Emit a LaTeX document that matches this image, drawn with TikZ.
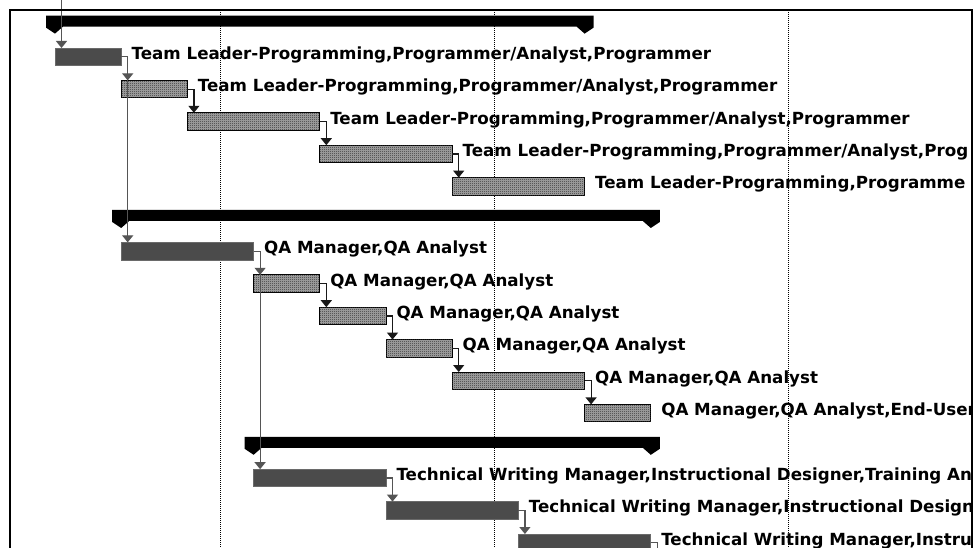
\documentclass[tikz,border=0pt]{standalone}
\usepackage{fontspec}
\newfontfamily\lblfont{DejaVu Sans}
\usetikzlibrary{arrows.meta,patterns.meta}

\definecolor{taskdark}{HTML}{4B4B4B}
\definecolor{taskedge}{HTML}{6A6A6A}
\definecolor{linkgray}{HTML}{555555}
\definecolor{ditherlight}{HTML}{A8A8A8}
\definecolor{ditherdark}{HTML}{2E2E2E}

% fine checkerboard used for the non-critical task bars
\tikzdeclarepattern{
  name=dither, type=uncolored,
  bounding box={(0pt,0pt) and (2pt,2pt)},
  tile size={(2pt,2pt)},
  code={
    \pgfpathrectangle{\pgfpointorigin}{\pgfpoint{1pt}{1pt}}
    \pgfpathrectangle{\pgfpoint{1pt}{1pt}}{\pgfpoint{1pt}{1pt}}
    \pgfusepath{fill}
  }
}

\tikzset{
  barbase/.style={rectangle, inner sep=0pt, outer sep=0pt, minimum height=17.5pt, anchor=north west},
  critbar/.style={barbase, fill=taskdark, draw=taskedge, line width=0.8pt},
  plainbar/.style={barbase, fill=ditherlight, draw=black, line width=1pt,
    postaction={pattern=dither, pattern color=ditherdark}},
  sumbar/.style={fill=black},
  grid/.style={black, line width=0.9pt, dash pattern=on 1pt off 1pt},
  frame/.style={black, line width=2pt},
  link/.style={line width=1.2pt, -{Triangle[width=11pt,length=7pt]}},
  graylink/.style={link, linkgray},
  blacklink/.style={link, black!90},
  lbl/.style={anchor=base west, inner sep=0pt, outer sep=0pt, text=black,
    font=\lblfont\bfseries\fontsize{16.7}{20}\selectfont}
}

% task bar: name, style, row, start column, span in columns
\newcommand\gtask[5]{%
  \node[#2, minimum width={66.2pt*#5}] (#1) at ({55+66.2*#4},{48+32.4*(#3-1)}) {};}
% label to the right of a task bar
\newcommand\glabel[3]{%
  \node[lbl] (#1) at ([shift={(10.5,2.5)}]#2.east) {#3};}
% summary bar: row, first column, last column
\newcommand\gsummary[3]{%
  \pgfmathsetmacro\xl{55+66.2*#2-9}%
  \pgfmathsetmacro\xr{55+66.2*#3+9}%
  \pgfmathsetmacro\yt{48+32.4*(#1-1)}%
  \fill[sumbar] (\xl,\yt) -- (\xr,\yt) -- (\xr,\yt+12) -- (\xr-9,\yt+18)
    -- (\xr-17,\yt+11) -- (\xl+17,\yt+11) -- (\xl+9,\yt+18) -- (\xl,\yt+12) -- cycle;}

\begin{document}
\begin{tikzpicture}[x=1pt,y=-1pt]
\useasboundingbox (0,0) rectangle (977,548);
\fill[white] (0,0) rectangle (977,548);

% timescale gridlines
\foreach \gx in {220,494,788}
  \draw[grid] (\gx,10) -- (\gx,548);

% summary bars
\gsummary{0}{0}{8}
\gsummary{6}{1}{9}
\gsummary{13}{3}{9}

% programming tasks
\gtask{t1}{critbar}{1}{0}{1}
\gtask{t2}{plainbar}{2}{1}{1}
\gtask{t3}{plainbar}{3}{2}{2}
\gtask{t4}{plainbar}{4}{4}{2}
\gtask{t5}{plainbar}{5}{6}{2}
% testing tasks
\gtask{q1}{critbar}{7}{1}{2}
\gtask{q2}{plainbar}{8}{3}{1}
\gtask{q3}{plainbar}{9}{4}{1}
\gtask{q4}{plainbar}{10}{5}{1}
\gtask{q5}{plainbar}{11}{6}{2}
\gtask{q6}{plainbar}{12}{8}{1}
% documentation tasks
\gtask{w1}{critbar}{14}{3}{2}
\gtask{w2}{critbar}{15}{5}{2}
\gtask{w3}{critbar}{16}{7}{2}

% dependency links
\coordinate (lin) at (61.5,0);
\coordinate (lout) at (657.3,560);
\draw[graylink] (lin) -- ([xshift=6.5pt]t1.north west);
\draw[graylink] (t1.east) -| ([xshift=6.5pt]q1.north west);
\draw[graylink] (t1.east) -| ([xshift=6.5pt]t2.north west);
\draw[blacklink] (t2.east) -| ([xshift=6.5pt]t3.north west);
\draw[blacklink] (t3.east) -| ([xshift=6.5pt]t4.north west);
\draw[blacklink] (t4.east) -| ([xshift=6.5pt]t5.north west);
\draw[graylink] (q1.east) -| ([xshift=6.5pt]w1.north west);
\draw[graylink] (q1.east) -| ([xshift=6.5pt]q2.north west);
\draw[blacklink] (q2.east) -| ([xshift=6.5pt]q3.north west);
\draw[blacklink] (q3.east) -| ([xshift=6.5pt]q4.north west);
\draw[blacklink] (q4.east) -| ([xshift=6.5pt]q5.north west);
\draw[blacklink] (q5.east) -| ([xshift=6.5pt]q6.north west);
\draw[graylink] (w1.east) -| ([xshift=6.5pt]w2.north west);
\draw[graylink] (w2.east) -| ([xshift=6.5pt]w3.north west);
\draw[graylink, -] (w3.east) -| (lout);

% resource labels, cut off at the right edge of the view
\begin{scope}
\clip (11,0) rectangle (971,548);
\glabel{lt1}{t1}{Team Leader-Programming,Programmer/Analyst,Programmer}
\glabel{lt2}{t2}{Team Leader-Programming,Programmer/Analyst,Programmer}
\glabel{lt3}{t3}{Team Leader-Programming,Programmer/Analyst,Programmer}
\glabel{lt4}{t4}{Team Leader-Programming,Programmer/Analyst,Prog}
\glabel{lt5}{t5}{Team Leader-Programming,Programme}
\glabel{lq1}{q1}{QA Manager,QA Analyst}
\glabel{lq2}{q2}{QA Manager,QA Analyst}
\glabel{lq3}{q3}{QA Manager,QA Analyst}
\glabel{lq4}{q4}{QA Manager,QA Analyst}
\glabel{lq5}{q5}{QA Manager,QA Analyst}
\glabel{lq6}{q6}{QA Manager,QA Analyst,End-User}
\glabel{lw1}{w1}{Technical Writing Manager,Instructional Designer,Training Ana}
\glabel{lw2}{w2}{Technical Writing Manager,Instructional Designe}
\glabel{lw3}{w3}{Technical Writing Manager,Instruc}
\end{scope}

% view frame
\draw[frame] (10,560) -- (10,10) -- (972,10) -- (972,560);
\end{tikzpicture}
\end{document}
